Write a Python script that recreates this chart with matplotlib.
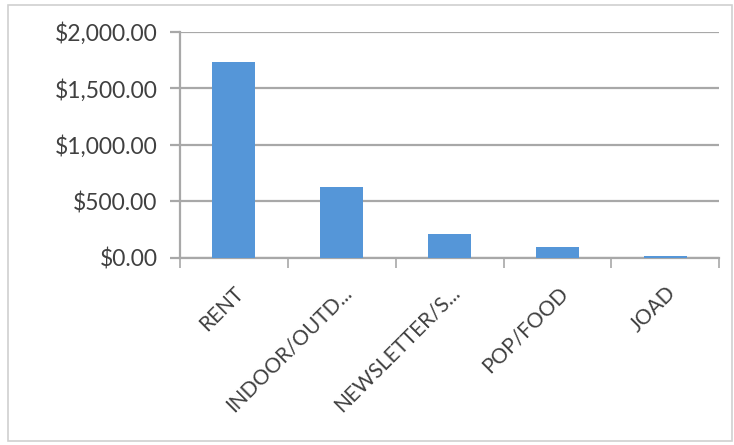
import matplotlib.pyplot as plt
from matplotlib.patches import Rectangle
from matplotlib.ticker import FuncFormatter

categories = ["RENT", "INDOOR/OUTD...", "NEWSLETTER/S...", "POP/FOOD", "JOAD"]
amounts = [1730, 628, 207, 97, 15]

plt.rcParams["font.family"] = ["Lato", "DejaVu Sans"]

fig = plt.figure(figsize=(7.34, 4.45), dpi=100)
ax = fig.add_axes([0.245, 0.421, 0.735, 0.508])

x = range(len(categories))
ax.bar(x, amounts, width=0.4, color="#5596D8", zorder=3)

ax.set_xlim(-0.5, len(categories) - 0.5)
ax.set_ylim(0, 2000)
ax.set_yticks([0, 500, 1000, 1500, 2000])
ax.yaxis.set_major_formatter(FuncFormatter(lambda v, p: f"${v:,.2f}"))
ax.grid(axis="y", color="#A8A8A8", linewidth=1.6, zorder=0)

for s in ["top", "right"]:
    ax.spines[s].set_visible(False)
for s in ["bottom", "left"]:
    ax.spines[s].set_color("#A8A8A8")
    ax.spines[s].set_linewidth(1.6)

ax.tick_params(axis="y", length=7, width=1.6, color="#A8A8A8", pad=9,
               labelsize=16.5, labelcolor="#404040")

# labels at the centres, tick marks at the category edges
ax.set_xticks(list(x))
ax.set_xticklabels(categories, rotation=45, ha="right", va="top",
                   rotation_mode="anchor", fontsize=15, color="#404040")
ax.tick_params(axis="x", which="major", length=0, pad=18)
ax.set_xticks([i - 0.5 for i in range(len(categories) + 1)], minor=True)
ax.tick_params(axis="x", which="minor", length=7, width=1.2, color="#A8A8A8")

# chart border
fig.patches.append(Rectangle((8 / 734, 4 / 445), 724 / 734, 436 / 445,
                             transform=fig.transFigure, fill=False,
                             edgecolor="#D0D0D0", linewidth=1.2))

fig.savefig("out.png", dpi=100)
